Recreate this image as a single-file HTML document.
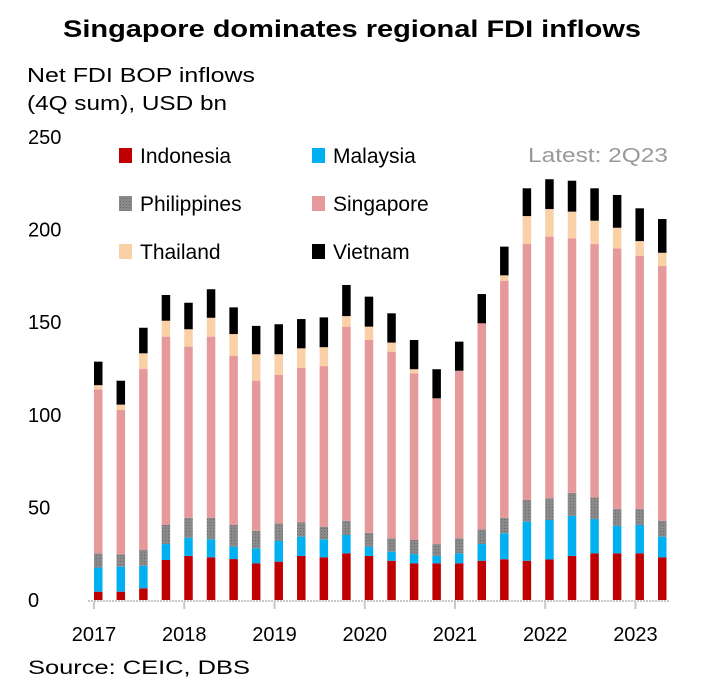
<!DOCTYPE html>
<html><head><meta charset="utf-8"><style>
body{margin:0;background:#fff;width:705px;height:694px;overflow:hidden;font-family:"Liberation Sans",sans-serif}
svg text{font-family:"Liberation Sans",sans-serif}
</style></head><body>
<svg id="chart" width="705" height="694">
<defs><pattern id="dots" width="3" height="3" patternUnits="userSpaceOnUse"><rect width="3" height="3" fill="#8a8a8a"/><rect width="1" height="1" fill="#6a6a6a"/></pattern></defs>
<text x="352" y="37" text-anchor="middle" font-size="24" font-weight="bold" textLength="578" lengthAdjust="spacingAndGlyphs">Singapore dominates regional FDI inflows</text>
<text x="27" y="82" font-size="20" textLength="228" lengthAdjust="spacingAndGlyphs">Net FDI BOP inflows</text>
<text x="27" y="110" font-size="20" textLength="200" lengthAdjust="spacingAndGlyphs">(4Q sum), USD bn</text>
<text x="668" y="162" text-anchor="end" font-size="20" fill="#999" textLength="140" lengthAdjust="spacingAndGlyphs">Latest: 2Q23</text>
<text x="28" y="674" font-size="19" textLength="222" lengthAdjust="spacingAndGlyphs">Source: CEIC, DBS</text>
<g id="axes"></g><g id="bars"></g><g id="legend"></g>
</svg>
<script>
const years=["2017","2018","2019","2020","2021","2022","2023"];
const yTicks=[0,50,100,150,200,250];
const seriesNames=["Indonesia","Malaysia","Philippines","Singapore","Thailand","Vietnam"];
const indonesia=[4.5,4.5,6.3,21.6,23.8,23,22.1,19.8,20.7,23.8,23,25.2,23.8,21.2,19.8,19.8,19.8,21.2,22,21.2,21.9,23.8,25.2,25.2,25.2,23];
const malaysia=[13,13.5,12.2,8.6,9.8,9.8,6.7,8.1,11.2,10.4,9.8,9.9,5,4.9,5,4.1,5.4,9,14,21.1,21.3,21.6,18.5,14.8,15.3,11.2];
const philippines=[7.7,6.7,8.5,10.3,10.8,11.6,11.7,9.5,9.5,7.8,6.8,7.7,7.5,7.2,7.6,6.3,8.1,8,8.4,11.7,11.7,12.5,11.7,9.1,8.6,8.6];
const singapore=[88.6,77.9,97.7,101.7,92.4,97.8,91.4,81,80.1,83.4,86.7,104.8,104.1,100.8,90,78.7,90.5,111.2,128,138.2,141.3,137.4,136.8,140.8,136.8,137.5];
const thailand=[2.2,2.9,8.5,8.6,9.4,10.2,11.7,14.3,11.2,10.5,10.2,5.7,7.2,4.9,2.2,0,0,0,2.9,15.1,14.9,14.4,12.6,11.1,7.9,7.2];
const vietnam=[12.7,12.9,13.8,13.9,14.3,15.4,14.4,15.3,16.2,15.8,16.1,16.8,16.2,15.8,15.8,15.7,15.7,15.8,15.5,15,16.1,16.7,17.5,17.7,17.7,18.2];
const series=[indonesia,malaysia,philippines,singapore,thailand,vietnam];
const colors=["#c00000","#00b0f0","url(#dots)","#e6999b","#fad0a6","#000000"];
const NS="http://www.w3.org/2000/svg";
const y0=600,pxPer=463/250,x0=94,step=22.56,bw=8.5;
const yS=v=>y0-v*pxPer, xS=i=>x0+i*step;
function mk(t,a,p){const e=document.createElementNS(NS,t);for(const k in a)e.setAttribute(k,a[k]);p.appendChild(e);return e;}
const ax=document.getElementById('axes');
yTicks.forEach(v=>{const t=mk('text',{x:28,y:yS(v)+7,'font-size':20},ax);t.textContent=v;

});
const base=mk('line',{x1:88,x2:670,y1:y0+1,y2:y0+1,stroke:'#c8c8c8','stroke-width':2,'stroke-dasharray':'2,1'},ax);


years.forEach((yr,k)=>{const x=xS(k*4);
const tk=mk('line',{x1:x,x2:x,y1:y0+2,y2:y0+9,stroke:'#c8c8c8','stroke-width':2},ax);


const t=mk('text',{x:x,y:641,'font-size':20,'text-anchor':'middle'},ax);t.textContent=yr;

});
const bg=document.getElementById('bars');
for(let i=0;i<indonesia.length;i++){let cum=0;
series.forEach((s,j)=>{const v=s[i];if(v<=0)return;
const r=mk('rect',{x:xS(i),y:yS(cum+v),width:bw,height:v*pxPer,fill:colors[j]},bg);


cum+=v;});}
const lg=document.getElementById('legend');
const lx=[119,312],ly=[156,204,252];
seriesNames.forEach((n,j)=>{const cx=lx[j%2],cy=ly[Math.floor(j/2)];
const sq=mk('rect',{x:cx,y:cy-8,width:13,height:15,fill:colors[j]},lg);


const t=mk('text',{x:cx+21,y:cy+7,'font-size':21},lg);t.textContent=n;

});
</script>
</body></html>
